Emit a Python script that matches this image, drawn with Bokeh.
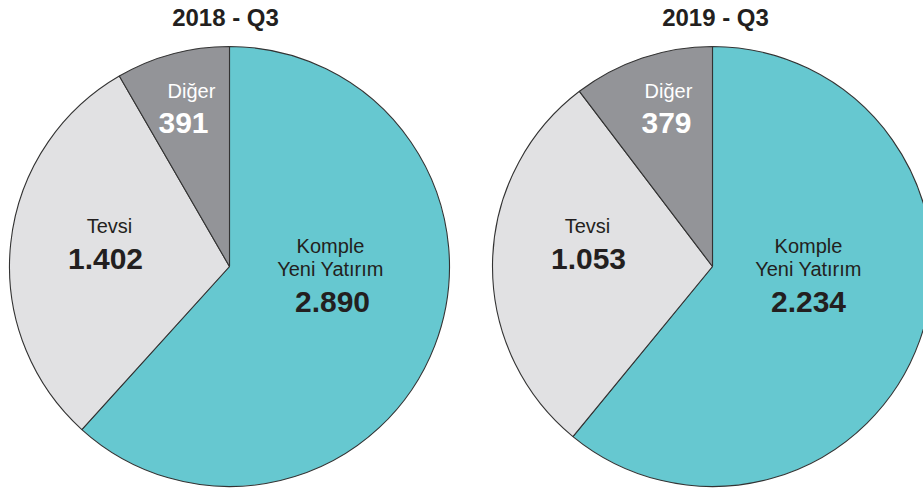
import math
from bokeh.plotting import figure
from bokeh.models import Range1d, ColumnDataSource
from bokeh.core.properties import value
from bokeh.embed import file_html
from bokeh.resources import INLINE

# ---- data ----
titles = ["2018 - Q3", "2019 - Q3"]
categories = ["Komple\nYeni Yatırım", "Tevsi", "Diğer"]
values_2018 = [2890, 1402, 391]
values_2019 = [2234, 1053, 379]
value_labels_2018 = ["2.890", "1.402", "391"]
value_labels_2019 = ["2.234", "1.053", "379"]

# ---- style / layout ----
colors = ["#66c8d0", "#e1e1e3", "#939498"]
label_colors = ["#231f20", "#231f20", "#ffffff"]
FONT = "Liberation Sans"
DARK = "#231f20"
W, H = 923, 492
centers = [(229, 266), (712, 266)]
R = 220
title_dx = [-4, 3]
TITLE_Y = 17
# per pie, per category: (name dx, value dx)
label_dx = [
    [(101, 103), (-120, -124), (-38, -46)],
    [(96, 96), (-125, -124), (-44, -46)],
]
# per category: (first name line middle dy, value middle dy) relative to pie centre
label_dy = [(-21, 35), (-41, -8), (-176, -144)]
LINE_GAP = 23

p = figure(width=W, height=H, x_range=Range1d(0, W), y_range=Range1d(-H, 0),
           output_backend="svg", toolbar_location=None, min_border=0,
           x_axis_type=None, y_axis_type=None, outline_line_color=None,
           background_fill_color="white", border_fill_color="white")
p.grid.visible = False

for i, (vals, vlabels) in enumerate([(values_2018, value_labels_2018),
                                     (values_2019, value_labels_2019)]):
    cx, cy = centers[i]
    total = float(sum(vals))
    # clockwise from top: compute anticlockwise start/end angles
    starts, ends = [], []
    cur = math.pi / 2
    for v in vals:
        a = 2 * math.pi * v / total
        ends.append(cur)
        starts.append(cur - a)
        cur -= a
    src = ColumnDataSource(dict(x=[cx] * len(vals), y=[-cy] * len(vals),
                                start=starts, end=ends, color=colors))
    p.wedge(x="x", y="y", radius=R, radius_units="screen",
            start_angle="start", end_angle="end", fill_color="color",
            line_color="#333333", line_width=1.1, source=src)

    # title
    p.text(x=[cx + title_dx[i]], y=[-TITLE_Y], text=[titles[i]],
           text_font=value(FONT), text_font_style="bold", text_font_size="24px",
           text_color=DARK, text_align="center", text_baseline="middle")

    # labels
    for k, cat in enumerate(categories):
        ndx, vdx = label_dx[i][k]
        ndy, vdy = label_dy[k]
        for j, line in enumerate(cat.split("\n")):
            p.text(x=[cx + ndx], y=[-(cy + ndy + j * LINE_GAP)], text=[line],
                   text_font=value(FONT), text_font_size="20px",
                   text_color=label_colors[k], text_align="center",
                   text_baseline="middle")
        p.text(x=[cx + vdx], y=[-(cy + vdy)], text=[vlabels[k]],
               text_font=value(FONT), text_font_style="bold", text_font_size="30px",
               text_color=label_colors[k], text_align="center",
               text_baseline="middle")

open("out.html", "w").write(file_html(p, INLINE))
